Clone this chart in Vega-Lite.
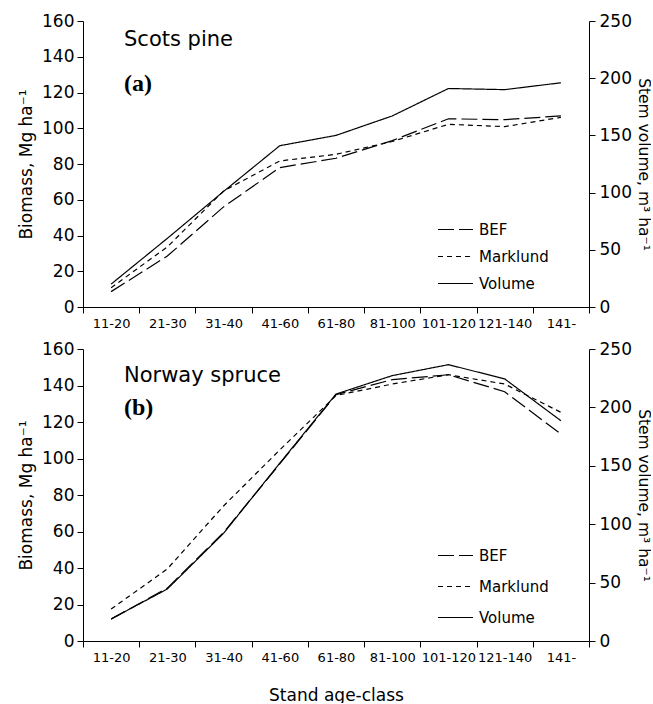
{
  "$schema": "https://vega.github.io/schema/vega-lite/v6.json",
  "background": "white",
  "padding": {"left": 17, "top": 12, "right": 0, "bottom": 0},
  "config": {
    "font": "DejaVu Sans",
    "view": {"stroke": null},
    "concat": {"spacing": 10},
    "title": {"anchor": "start", "frame": "group", "orient": "top", "dx": 41, "font": "DejaVu Sans", "fontSize": 21, "fontWeight": "normal", "color": "black",
      "subtitleFont": "Liberation Serif", "subtitleFontSize": 24, "subtitleFontWeight": "bold", "subtitleColor": "black"},
    "axis": {
      "grid": false, "domainColor": "black", "tickColor": "black", "labelColor": "black", "titleColor": "black",
      "labelFont": "DejaVu Sans", "titleFont": "DejaVu Sans", "titleFontWeight": "normal",
      "tickSize": 6, "domainWidth": 1, "tickWidth": 1
    },
    "legend": {
      "orient": "none", "title": null, "symbolType": "stroke", "symbolSize": 1225,
      "symbolStrokeWidth": 1.2, "symbolStrokeColor": "black", "labelFontSize": 15,
      "labelFont": "DejaVu Sans", "labelColor": "black", "labelOffset": 5, "rowPadding": 1
    }
  },
  "resolve": {"scale": {"strokeDash": "independent"}, "legend": {"strokeDash": "independent"}},
  "datasets": {
    "pine": [
      {"age": "11-20", "series": "BEF", "value": 8.6},
      {"age": "21-30", "series": "BEF", "value": 28.5},
      {"age": "31-40", "series": "BEF", "value": 56},
      {"age": "41-60", "series": "BEF", "value": 78},
      {"age": "61-80", "series": "BEF", "value": 83.2},
      {"age": "81-100", "series": "BEF", "value": 93.1},
      {"age": "101-120", "series": "BEF", "value": 105.3},
      {"age": "121-140", "series": "BEF", "value": 104.8},
      {"age": "141-", "series": "BEF", "value": 106.9},
      {"age": "11-20", "series": "Marklund", "value": 10.8},
      {"age": "21-30", "series": "Marklund", "value": 33.6},
      {"age": "31-40", "series": "Marklund", "value": 64.9},
      {"age": "41-60", "series": "Marklund", "value": 81.7},
      {"age": "61-80", "series": "Marklund", "value": 85.4},
      {"age": "81-100", "series": "Marklund", "value": 92.6},
      {"age": "101-120", "series": "Marklund", "value": 102.2},
      {"age": "121-140", "series": "Marklund", "value": 100.9},
      {"age": "141-", "series": "Marklund", "value": 106.1},
      {"age": "11-20", "series": "Volume", "value": 20},
      {"age": "21-30", "series": "Volume", "value": 60},
      {"age": "31-40", "series": "Volume", "value": 101},
      {"age": "41-60", "series": "Volume", "value": 141},
      {"age": "61-80", "series": "Volume", "value": 150},
      {"age": "81-100", "series": "Volume", "value": 167},
      {"age": "101-120", "series": "Volume", "value": 191},
      {"age": "121-140", "series": "Volume", "value": 190},
      {"age": "141-", "series": "Volume", "value": 196}
    ],
    "spruce": [
      {"age": "11-20", "series": "BEF", "value": 12},
      {"age": "21-30", "series": "BEF", "value": 29},
      {"age": "31-40", "series": "BEF", "value": 59.5},
      {"age": "41-60", "series": "BEF", "value": 97},
      {"age": "61-80", "series": "BEF", "value": 135},
      {"age": "81-100", "series": "BEF", "value": 143.2},
      {"age": "101-120", "series": "BEF", "value": 145.9},
      {"age": "121-140", "series": "BEF", "value": 136.6},
      {"age": "141-", "series": "BEF", "value": 113.4},
      {"age": "11-20", "series": "Marklund", "value": 17.5},
      {"age": "21-30", "series": "Marklund", "value": 39.5},
      {"age": "31-40", "series": "Marklund", "value": 74},
      {"age": "41-60", "series": "Marklund", "value": 104.7},
      {"age": "61-80", "series": "Marklund", "value": 134.5},
      {"age": "81-100", "series": "Marklund", "value": 140.8},
      {"age": "101-120", "series": "Marklund", "value": 145.9},
      {"age": "121-140", "series": "Marklund", "value": 140.8},
      {"age": "141-", "series": "Marklund", "value": 125.3},
      {"age": "11-20", "series": "Volume", "value": 18.9},
      {"age": "21-30", "series": "Volume", "value": 44.5},
      {"age": "31-40", "series": "Volume", "value": 92.2},
      {"age": "41-60", "series": "Volume", "value": 152.3},
      {"age": "61-80", "series": "Volume", "value": 211.4},
      {"age": "81-100", "series": "Volume", "value": 227.2},
      {"age": "101-120", "series": "Volume", "value": 236.6},
      {"age": "121-140", "series": "Volume", "value": 224.4},
      {"age": "141-", "series": "Volume", "value": 188.6}
    ]
  },
  "vconcat": [
    {
      "width": 506, "height": 286,
      "data": {"name": "pine"},
      "title": {"text": "Scots pine", "subtitle": "(a)", "offset": -84, "subtitlePadding": 22},
      "layer": [
        {
          "transform": [{"filter": "datum.series !== 'Volume'"}],
          "mark": {"type": "line", "color": "black", "strokeWidth": 1.2},
          "encoding": {
            "x": {"field": "age", "type": "ordinal", "bandPosition": 0.5,
              "sort": ["11-20","21-30","31-40","41-60","61-80","81-100","101-120","121-140","141-"],
              "scale": {"type": "band", "paddingInner": 0, "paddingOuter": 0},
              "axis": {"title": null, "labelAngle": 0, "tickBand": "extent", "labelFontSize": 13, "labelPadding": 4, "labelOverlap": false}},
            "y": {"field": "value", "type": "quantitative", "scale": {"domain": [0, 160], "nice": false},
              "axis": {"title": "Biomass, Mg ha⁻¹", "values": [0,20,40,60,80,100,120,140,160], "labelOverlap": false, "labelFontSize": 17, "titleFontSize": 17, "labelPadding": 3, "titlePadding": 6}},
            "strokeDash": {"field": "series", "type": "nominal",
              "scale": {"domain": ["BEF", "Marklund", "Volume"], "range": [[16, 5], [5, 4], [1, 0]]},
              "legend": {"legendX": 354, "legendY": 190, "rowPadding": 0}}
          }
        },
        {
          "transform": [{"filter": "datum.series === 'Volume'"}],
          "mark": {"type": "line", "color": "black", "strokeWidth": 1.2},
          "encoding": {
            "x": {"field": "age", "type": "ordinal", "bandPosition": 0.5,
              "sort": ["11-20","21-30","31-40","41-60","61-80","81-100","101-120","121-140","141-"],
              "scale": {"type": "band", "paddingInner": 0, "paddingOuter": 0},
              "axis": {"title": null, "labelAngle": 0, "tickBand": "extent", "labelFontSize": 13, "labelPadding": 4, "labelOverlap": false}},
            "y": {"field": "value", "type": "quantitative", "scale": {"domain": [0, 250], "nice": false},
              "axis": {"orient": "right", "title": "Stem volume, m³ ha⁻¹", "values": [0,50,100,150,200,250], "labelOverlap": false, "labelFontSize": 17, "titleFontSize": 15.5, "labelPadding": 4, "titlePadding": 4}},
            "strokeDash": {"field": "series", "type": "nominal",
              "scale": {"domain": ["BEF", "Marklund", "Volume"], "range": [[16, 5], [5, 4], [1, 0]]},
              "legend": {"legendX": 354, "legendY": 190, "rowPadding": 0}}
          }
        }
      ],
      "resolve": {"scale": {"y": "independent"}}
    },
    {
      "width": 506, "height": 292,
      "data": {"name": "spruce"},
      "title": {"text": "Norway spruce", "subtitle": "(b)", "offset": -80, "subtitlePadding": 9.6},
      "layer": [
        {
          "transform": [{"filter": "datum.series !== 'Volume'"}],
          "mark": {"type": "line", "color": "black", "strokeWidth": 1.2},
          "encoding": {
            "x": {"field": "age", "type": "ordinal", "bandPosition": 0.5,
              "sort": ["11-20","21-30","31-40","41-60","61-80","81-100","101-120","121-140","141-"],
              "scale": {"type": "band", "paddingInner": 0, "paddingOuter": 0},
              "axis": {"title": "Stand age-class", "titleFontSize": 17, "titlePadding": 23, "labelAngle": 0, "tickBand": "extent", "labelFontSize": 13, "labelPadding": 4, "labelOverlap": false}},
            "y": {"field": "value", "type": "quantitative", "scale": {"domain": [0, 160], "nice": false},
              "axis": {"title": "Biomass, Mg ha⁻¹", "values": [0,20,40,60,80,100,120,140,160], "labelOverlap": false, "labelFontSize": 17, "titleFontSize": 17, "labelPadding": 3, "titlePadding": 6}},
            "strokeDash": {"field": "series", "type": "nominal",
              "scale": {"domain": ["BEF", "Marklund", "Volume"], "range": [[16, 5], [5, 4], [1, 0]]},
              "legend": {"legendX": 354, "legendY": 188, "rowPadding": 4}}
          }
        },
        {
          "transform": [{"filter": "datum.series === 'Volume'"}],
          "mark": {"type": "line", "color": "black", "strokeWidth": 1.2},
          "encoding": {
            "x": {"field": "age", "type": "ordinal", "bandPosition": 0.5,
              "sort": ["11-20","21-30","31-40","41-60","61-80","81-100","101-120","121-140","141-"],
              "scale": {"type": "band", "paddingInner": 0, "paddingOuter": 0},
              "axis": {"title": "Stand age-class", "titleFontSize": 17, "titlePadding": 23, "labelAngle": 0, "tickBand": "extent", "labelFontSize": 13, "labelPadding": 4, "labelOverlap": false}},
            "y": {"field": "value", "type": "quantitative", "scale": {"domain": [0, 250], "nice": false},
              "axis": {"orient": "right", "title": "Stem volume, m³ ha⁻¹", "values": [0,50,100,150,200,250], "labelOverlap": false, "labelFontSize": 17, "titleFontSize": 15.5, "labelPadding": 4, "titlePadding": 4}},
            "strokeDash": {"field": "series", "type": "nominal",
              "scale": {"domain": ["BEF", "Marklund", "Volume"], "range": [[16, 5], [5, 4], [1, 0]]},
              "legend": {"legendX": 354, "legendY": 188, "rowPadding": 4}}
          }
        }
      ],
      "resolve": {"scale": {"y": "independent"}}
    }
  ]
}
